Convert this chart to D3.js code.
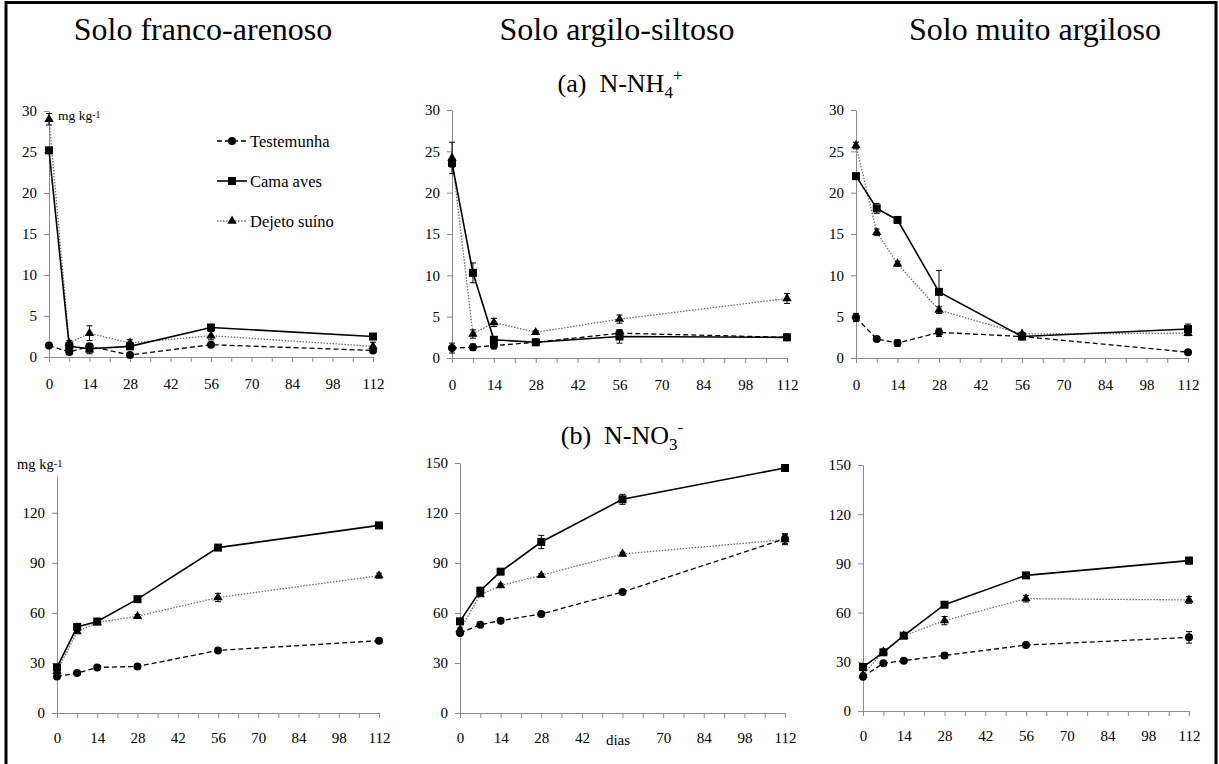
<!DOCTYPE html>
<html>
<head>
<meta charset="utf-8">
<script src="https://cdn.jsdelivr.net/npm/d3@7"></script>
<style>
  body { margin: 0; background: #fff; }
  svg { font-family: "Liberation Serif", "Times New Roman", serif; }
  .axis path, .axis line { stroke: #8a8a8a; }
  .axis text { fill: #000; font-family: "Liberation Serif", serif; }
</style>
</head>
<body>
<svg id="chart" width="1219" height="764"></svg>
<script>
// sampling days
const days = [0, 7, 14, 28, 56, 112];
const dayTicks = d3.range(0, 113, 7);

const soilTitles = ["Solo franco-arenoso", "Solo argilo-siltoso", "Solo muito argiloso"];
const seriesNames = ["Testemunha", "Cama aves", "Dejeto suíno"];

// (a) N-NH4+ (mg/kg)
const nh4FrancoTest = [1.4, 0.6, 1.3, 0.25, 1.5, 0.8];
const nh4FrancoCama = [25.2, 1.3, 1.0, 1.3, 3.6, 2.5];
const nh4FrancoDej  = [29.0, 1.7, 2.9, 1.7, 2.6, 1.3];
const nh4FrancoTestErr = [0.1, 0.3, 0.3, 0.2, 0.2, 0.3];
const nh4FrancoCamaErr = [0.3, 0.5, 0.6, 0.3, 0.2, 0.2];
const nh4FrancoDejErr  = [0.7, 0.3, 0.9, 0.4, 0.5, 0.5];

const nh4SiltTest = [1.2, 1.3, 1.5, 1.9, 3.0, 2.5];
const nh4SiltCama = [23.6, 10.3, 2.2, 1.9, 2.6, 2.5];
const nh4SiltDej  = [24.2, 2.9, 4.3, 3.1, 4.7, 7.2];
const nh4SiltTestErr = [0.6, 0.4, 0.4, 0.2, 0.4, 0.2];
const nh4SiltCamaErr = [0.5, 1.2, 0.3, 0.2, 0.8, 0.2];
const nh4SiltDejErr  = [1.9, 0.5, 0.5, 0.2, 0.5, 0.6];

const nh4ArgTest = [4.9, 2.3, 1.8, 3.1, 2.6, 0.7];
const nh4ArgCama = [22.0, 18.1, 16.7, 8.0, 2.6, 3.5];
const nh4ArgDej  = [25.7, 15.2, 11.4, 5.8, 2.9, 3.0];
const nh4ArgTestErr = [0.5, 0.3, 0.4, 0.5, 0.2, 0.2];
const nh4ArgCamaErr = [0.2, 0.6, 0.3, 2.6, 0.3, 0.6];
const nh4ArgDejErr  = [0.4, 0.4, 0.3, 0.4, 0.2, 0.3];

// (b) N-NO3- (mg/kg)
const no3FrancoTest = [21.9, 23.9, 27.3, 27.9, 37.5, 43.3];
const no3FrancoCama = [27.3, 51.6, 54.8, 68.2, 99.1, 112.4];
const no3FrancoDej  = [25.0, 48.8, 54.2, 58.0, 69.2, 82.3];
const no3FrancoTestErr = [1, 1, 1, 1, 1, 1];
const no3FrancoCamaErr = [1, 1, 1, 1, 1, 1.5];
const no3FrancoDejErr  = [1, 1, 1, 1, 2.5, 1.5];

const no3SiltTest = [48.0, 53.0, 55.4, 59.4, 72.6, 104.6];
const no3SiltCama = [55.0, 73.4, 84.8, 102.6, 128.2, 147.0];
const no3SiltDej  = [50.0, 71.0, 76.4, 82.6, 95.4, 104.0];
const no3SiltTestErr = [1, 1, 1, 1, 1, 3];
const no3SiltCamaErr = [1, 1, 1, 4, 3, 1.5];
const no3SiltDejErr  = [1, 1, 1, 1, 1, 3];

const no3ArgTest = [20.9, 29.1, 30.7, 33.9, 40.2, 44.9];
const no3ArgCama = [26.8, 35.8, 45.9, 64.8, 82.7, 91.7];
const no3ArgDej  = [22.0, 36.2, 45.9, 55.1, 68.5, 67.7];
const no3ArgTestErr = [1, 1, 1, 1.5, 1, 3.5];
const no3ArgCamaErr = [1, 1, 1, 1, 1, 2];
const no3ArgDejErr  = [1, 1, 1, 2.5, 2, 2];

const nh4Ticks = [0, 5, 10, 15, 20, 25, 30];
const no3Ticks = [0, 30, 60, 90, 120, 150];

const svg = d3.select("#chart");

// outer frame
svg.append("path")
    .attr("d", "M6,764 L6,2.5 L1216,2.5 L1216,764")
    .attr("fill", "none")
    .attr("stroke", "#000")
    .attr("stroke-width", 3);

// panel boxes (pixel layout)
const panels = [
    { x0: 49,  x1: 373,  y0: 357, y1: 111, max: 30,  ticks: nh4Ticks, data: [nh4FrancoTest, nh4FrancoCama, nh4FrancoDej], err: [nh4FrancoTestErr, nh4FrancoCamaErr, nh4FrancoDejErr], pad: 16 },
    { x0: 452, x1: 787,  y0: 358, y1: 110, max: 30,  ticks: nh4Ticks, data: [nh4SiltTest, nh4SiltCama, nh4SiltDej], err: [nh4SiltTestErr, nh4SiltCamaErr, nh4SiltDejErr], pad: 16 },
    { x0: 856, x1: 1188, y0: 358, y1: 110, max: 30,  ticks: nh4Ticks, data: [nh4ArgTest, nh4ArgCama, nh4ArgDej], err: [nh4ArgTestErr, nh4ArgCamaErr, nh4ArgDejErr], pad: 16 },
    { x0: 57,  x1: 379,  y0: 713, y1: 476, max: 142, ticks: no3Ticks.slice(0, 5), data: [no3FrancoTest, no3FrancoCama, no3FrancoDej], err: [no3FrancoTestErr, no3FrancoCamaErr, no3FrancoDejErr], pad: 14 },
    { x0: 460, x1: 785,  y0: 713, y1: 463, max: 150, ticks: no3Ticks, data: [no3SiltTest, no3SiltCama, no3SiltDej], err: [no3SiltTestErr, no3SiltCamaErr, no3SiltDejErr], pad: 14, hide56: true },
    { x0: 863, x1: 1189, y0: 711, y1: 465, max: 150, ticks: no3Ticks, data: [no3ArgTest, no3ArgCama, no3ArgDej], err: [no3ArgTestErr, no3ArgCamaErr, no3ArgDejErr], pad: 14 }
];

const styles = [
    { stroke: "#000", width: 1.3, dash: "5,3", marker: "circle" },
    { stroke: "#000", width: 1.6, dash: null, marker: "square" },
    { stroke: "#6e6e6e", width: 1.3, dash: "1.5,1.5", marker: "triangle" }
];

function drawMarker(g, type, x, y) {
    if (type === "circle") {
        g.append("circle").attr("cx", x).attr("cy", y).attr("r", 4).attr("fill", "#000");
    } else if (type === "square") {
        g.append("rect").attr("x", x - 4).attr("y", y - 4).attr("width", 8).attr("height", 8).attr("fill", "#000");
    } else {
        g.append("path")
            .attr("d", d3.symbol().type(d3.symbolTriangle).size(38)())
            .attr("transform", `translate(${x},${y})`)
            .attr("fill", "#000");
    }
}

panels.forEach(p => {
    const x = d3.scaleLinear().domain([0, 112]).range([p.x0, p.x1]);
    const y = d3.scaleLinear().domain([0, p.max]).range([p.y0, p.y1]);

    const xAxis = d3.axisBottom(x)
        .tickValues(dayTicks)
        .tickSize(5)
        .tickSizeOuter(0)
        .tickPadding(p.pad)
        .tickFormat(d => (d % 14 === 0 && !(p.hide56 && d === 56)) ? d : "");
    svg.append("g").attr("class", "axis")
        .attr("transform", `translate(0,${p.y0})`)
        .call(xAxis)
        .call(g => g.selectAll("text").attr("font-size", 15));

    const yAxis = d3.axisLeft(y)
        .tickValues(p.ticks)
        .tickSize(5)
        .tickSizeOuter(0)
        .tickPadding(7);
    svg.append("g").attr("class", "axis")
        .attr("transform", `translate(${p.x0},0)`)
        .call(yAxis)
        .call(g => g.selectAll("text").attr("font-size", 15));

    const g = svg.append("g");
    // draw order: dejeto, testemunha, cama
    [2, 0, 1].forEach(si => {
        const st = styles[si];
        const vals = p.data[si];
        const errs = p.err[si];
        const line = d3.line().x((d, i) => x(days[i])).y(d => y(d));
        g.append("path")
            .attr("d", line(vals))
            .attr("fill", "none")
            .attr("stroke", st.stroke)
            .attr("stroke-width", st.width)
            .attr("stroke-dasharray", st.dash);
        vals.forEach((v, i) => {
            const cx = x(days[i]);
            const yt = y(v + errs[i]), yb = y(Math.max(0, v - errs[i]));
            g.append("path")
                .attr("d", `M${cx - 3},${yt}H${cx + 3}M${cx},${yt}V${yb}M${cx - 3},${yb}H${cx + 3}`)
                .attr("stroke", "#000")
                .attr("stroke-width", 1)
                .attr("fill", "none");
            drawMarker(g, st.marker, cx, y(v));
        });
    });
});

// column titles
const titleX = [203, 617, 1035];
soilTitles.forEach((t, i) => {
    svg.append("text")
        .attr("x", titleX[i]).attr("y", 40)
        .attr("text-anchor", "middle")
        .attr("font-size", 32)
        .text(t);
});

// row titles
const rowA = svg.append("text")
    .attr("x", 620).attr("y", 92)
    .attr("text-anchor", "middle")
    .attr("font-size", 26)
    .style("white-space", "pre");
rowA.append("tspan").text("(a)  N-NH");
rowA.append("tspan").attr("font-size", 17).attr("dy", 6).text("4");
rowA.append("tspan").attr("font-size", 17).attr("dy", -17).text("+");

const rowB = svg.append("text")
    .attr("x", 622).attr("y", 444)
    .attr("text-anchor", "middle")
    .attr("font-size", 26)
    .style("white-space", "pre");
rowB.append("tspan").text("(b)  N-NO");
rowB.append("tspan").attr("font-size", 17).attr("dy", 6).text("3");
rowB.append("tspan").attr("font-size", 17).attr("dy", -17).text("-");

// units
function unitLabel(x, y, size) {
    const t = svg.append("text").attr("x", x).attr("y", y).attr("font-size", size);
    t.append("tspan").text("mg kg");
    t.append("tspan").attr("font-size", size * 0.72).attr("dy", -2).text("-1");
}
unitLabel(58, 120, 13.5);
unitLabel(17, 469, 14.5);

// x axis title
svg.append("text")
    .attr("x", 618).attr("y", 745)
    .attr("text-anchor", "middle")
    .attr("font-size", 15)
    .text("dias");

// legend in first panel
const legendY = [141, 181, 221];
seriesNames.forEach((name, i) => {
    const st = styles[i];
    const lg = svg.append("g");
    lg.append("line")
        .attr("x1", 217).attr("x2", 247)
        .attr("y1", legendY[i]).attr("y2", legendY[i])
        .attr("stroke", st.stroke)
        .attr("stroke-width", st.width)
        .attr("stroke-dasharray", st.dash);
    drawMarker(lg, st.marker, 232, legendY[i]);
    lg.append("text")
        .attr("x", 250).attr("y", legendY[i] + 5.5)
        .attr("font-size", 16.5)
        .text(name);
});
</script>
</body>
</html>
